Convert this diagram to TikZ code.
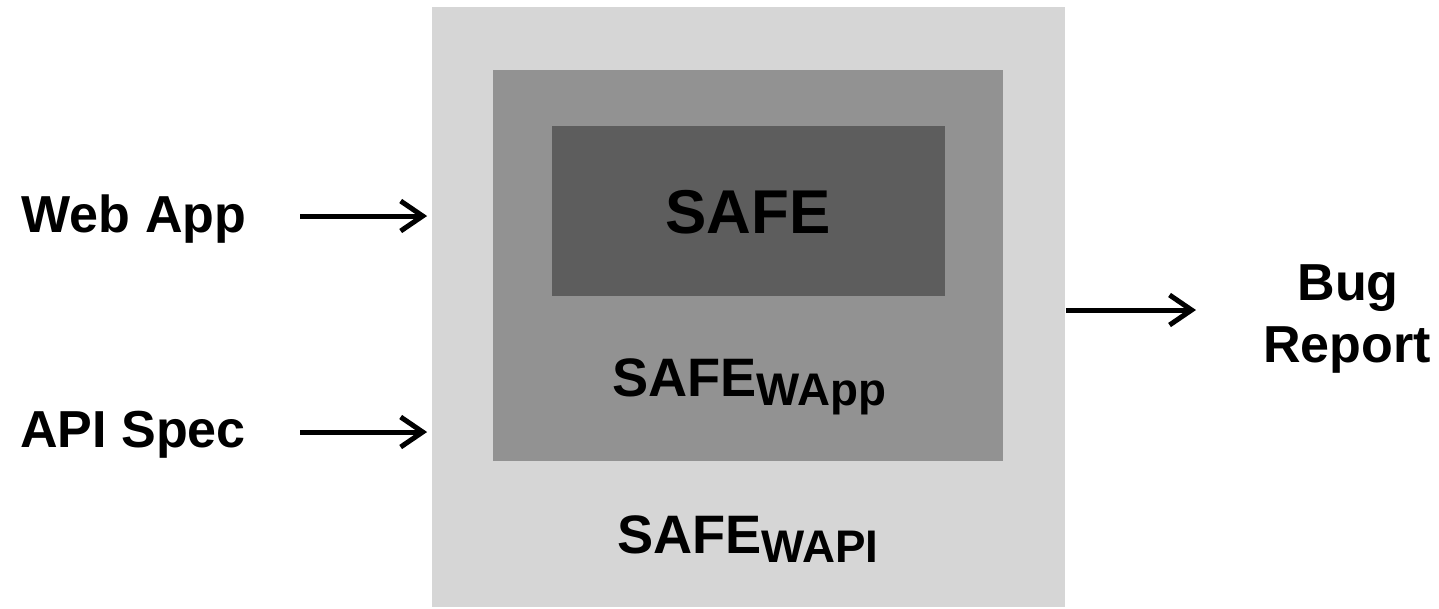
\documentclass[tikz,border=0pt]{standalone}
\usepackage{fontspec}
\setmainfont{Liberation Sans}
\usetikzlibrary{arrows.meta, positioning}
\definecolor{lightg}{HTML}{D6D6D6}
\definecolor{midg}{HTML}{929292}
\definecolor{darkg}{HTML}{5D5D5D}
\tikzset{
  layer/.style={draw=none, inner sep=0pt},
  lbl/.style={font=\fontsize{14.8}{17.6}\selectfont\bfseries, align=center, anchor=base, inner sep=0pt},
  big/.style={font=\fontsize{15.4}{18}\selectfont\bfseries, anchor=base, inner sep=0pt},
  flow/.style={line width=0.05cm, -{Straight Barb[length=0.22cm, width=0.30cm, line width=0.05cm]}}
}
\newcommand{\subw}[1]{\raisebox{-0.09cm}{\fontsize{13}{14}\selectfont #1}}
\begin{document}
\begin{tikzpicture}[x=0.01cm, y=-0.01cm]
\useasboundingbox (0,0) rectangle (1439,608);
% nested boxes
\node[layer, fill=lightg, minimum width=6.33cm, minimum height=6.00cm] (wapi) at (748.5,307) {};
\node[layer, fill=midg, minimum width=5.10cm, minimum height=3.91cm] (wapp) at (748,265.5) {};
\node[layer, fill=darkg, minimum width=3.93cm, minimum height=1.70cm] (safe) at (748.5,211) {};
% box titles
\node[big, font=\fontsize{17.6}{20}\selectfont\bfseries] (safetxt) at (748,233) {SAFE};
\node[big] (wapptxt) at (749,396) {SAFE\subw{WApp}};
\node[big] (wapitxt) at (748,553) {SAFE\subw{WAPI}};
% inputs and output
\node[lbl] (webapp) at (134,232) {Web App};
\node[lbl] (apispec) at (133,447) {API Spec};
\node[lbl] (bug) at (1348,300) {Bug};
\node[lbl] (report) at (1347,362) {Report};
\coordinate (in1) at (300,216);
\coordinate (in2) at (300,432);
\coordinate (out) at (1196,310);
\draw[flow, shorten >=0.04cm] (in1) -- (wapi.west |- in1);
\draw[flow, shorten >=0.04cm] (in2) -- (wapi.west |- in2);
\draw[flow] (wapi.east |- out) -- (out);
\end{tikzpicture}
\end{document}
